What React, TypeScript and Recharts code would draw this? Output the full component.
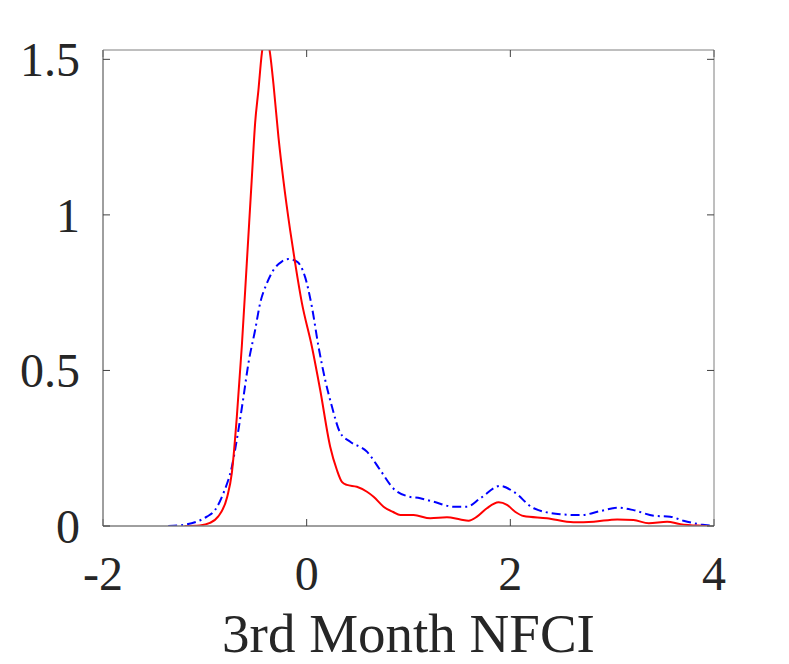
import React from "react";
import { LineChart, Line, XAxis, YAxis } from "recharts";

// kernel density estimates
const redX = [-1.2, -1.05, -0.95, -0.87, -0.78, -0.735, -0.686, -0.637, -0.588, -0.54, -0.506, -0.474, -0.44, -0.4, -0.36, -0.326, -0.277, -0.228, -0.162, -0.113, -0.047, 0.051, 0.133, 0.231, 0.297, 0.346, 0.395, 0.493, 0.592, 0.657, 0.755, 0.85, 0.919, 1.05, 1.214, 1.378, 1.509, 1.59, 1.673, 1.77, 1.885, 1.967, 2.05, 2.13, 2.36, 2.62, 2.82, 3.05, 3.21, 3.36, 3.54, 3.67, 3.87, 3.95];
const redY = [0, 0.002, 0.01, 0.03, 0.094, 0.17, 0.35, 0.577, 0.845, 1.11, 1.296, 1.4, 1.52, 1.58, 1.52, 1.42, 1.25, 1.11, 0.95, 0.845, 0.717, 0.577, 0.437, 0.255, 0.18, 0.142, 0.132, 0.126, 0.11, 0.094, 0.062, 0.045, 0.035, 0.035, 0.025, 0.028, 0.021, 0.017, 0.03, 0.057, 0.076, 0.068, 0.045, 0.032, 0.025, 0.012, 0.014, 0.021, 0.019, 0.009, 0.014, 0.006, 0.001, 0];

const blueX = [-1.36, -1.2, -1.08, -0.98, -0.9, -0.818, -0.735, -0.67, -0.62, -0.572, -0.506, -0.457, -0.391, -0.326, -0.244, -0.179, -0.096, -0.015, 0.051, 0.116, 0.182, 0.248, 0.329, 0.428, 0.592, 0.722, 0.853, 0.985, 1.115, 1.246, 1.443, 1.574, 1.705, 1.902, 2.033, 2.23, 2.49, 2.69, 2.885, 3.05, 3.21, 3.41, 3.57, 3.7, 3.87, 3.98];
const blueY = [0, 0.004, 0.014, 0.03, 0.051, 0.105, 0.19, 0.309, 0.416, 0.523, 0.63, 0.716, 0.78, 0.823, 0.85, 0.858, 0.85, 0.8, 0.705, 0.577, 0.469, 0.384, 0.3, 0.271, 0.239, 0.18, 0.12, 0.096, 0.089, 0.078, 0.062, 0.062, 0.089, 0.129, 0.11, 0.057, 0.038, 0.035, 0.048, 0.059, 0.051, 0.033, 0.03, 0.017, 0.005, 0.001];

const xTicks = [-2, 0, 2, 4];
const yTicks = [0, 0.5, 1, 1.5];

const redData = redX.map((x, i) => ({ x, y: redY[i] }));
const blueData = blueX.map((x, i) => ({ x, y: blueY[i] }));

const FONT = "'Liberation Serif', 'DejaVu Serif', serif";
const BOX = "#7f7f7f";
const TICK_LINE = { stroke: "#404040", strokeWidth: 1 };

function XTick({ x, y, payload }: any) {
  return (
    <text x={x} y={y + 62} textAnchor="middle" fontSize={48} fontFamily={FONT} fill="#262626">
      {payload.value}
    </text>
  );
}

function YTick({ x, y, payload }: any) {
  return (
    <text x={x - 21} y={y + 17} textAnchor="end" fontSize={48} fontFamily={FONT} fill="#262626">
      {payload.value}
    </text>
  );
}

function NoLabel() {
  return <g />;
}

export default function App() {
  return (
    <div style={{ position: "absolute", left: 0, top: 0, background: "#fff" }}>
      <LineChart width={789} height={664} margin={{ top: 50, right: 75, bottom: 8, left: 8 }}>
        <XAxis
          xAxisId="b"
          type="number"
          dataKey="x"
          domain={[-2, 4]}
          ticks={xTicks}
          allowDataOverflow
          height={130}
          stroke={BOX}
          tickLine={false}
          tickSize={0}
          tick={<XTick />}
          label={{
            content: ({ viewBox }: any) => (
              <text
                x={viewBox.x + viewBox.width / 2}
                y={viewBox.y + 126}
                textAnchor="middle"
                fontSize={55}
                fontFamily={FONT}
                fill="#262626"
              >
                3rd Month NFCI
              </text>
            ),
          }}
        />
        {/* box edges with inward ticks, MATLAB style */}
        <XAxis xAxisId="bt" type="number" dataKey="x" domain={[-2, 4]} allowDataOverflow ticks={xTicks} interval={0} orientation="bottom" mirror height={20} tick={<NoLabel />} tickLine={TICK_LINE} tickSize={7} stroke={BOX} />
        <XAxis xAxisId="t" type="number" dataKey="x" domain={[-2, 4]} allowDataOverflow ticks={xTicks} interval={0} orientation="top" mirror height={20} tick={<NoLabel />} tickLine={TICK_LINE} tickSize={7} stroke={BOX} />
        <YAxis
          yAxisId="l"
          type="number"
          domain={[0, 1.53]}
          ticks={yTicks}
          allowDataOverflow
          width={95}
          stroke={BOX}
          tickLine={false}
          tickSize={0}
          tick={<YTick />}
        />
        <YAxis yAxisId="lt" type="number" domain={[0, 1.53]} allowDataOverflow ticks={yTicks} interval={0} orientation="left" mirror width={20} tick={<NoLabel />} tickLine={TICK_LINE} tickSize={7} stroke={BOX} />
        <YAxis yAxisId="r" type="number" domain={[0, 1.53]} allowDataOverflow ticks={yTicks} interval={0} orientation="right" mirror width={20} tick={<NoLabel />} tickLine={TICK_LINE} tickSize={7} stroke={BOX} />
        {/* invisible series so the frame axes get their scales */}
        <Line xAxisId="bt" yAxisId="lt" data={redData} dataKey="y" stroke="none" dot={false} activeDot={false} isAnimationActive={false} />
        <Line xAxisId="t" yAxisId="r" data={redData} dataKey="y" stroke="none" dot={false} activeDot={false} isAnimationActive={false} />
        <Line
          xAxisId="b"
          yAxisId="l"
          data={blueData}
          dataKey="y"
          type="monotone"
          stroke="#0000ff"
          strokeWidth={2}
          strokeDasharray="9 4 2 4"
          dot={false}
          isAnimationActive={false}
        />
        <Line
          xAxisId="b"
          yAxisId="l"
          data={redData}
          dataKey="y"
          type="monotone"
          stroke="#ff0000"
          strokeWidth={2}
          dot={false}
          isAnimationActive={false}
        />
      </LineChart>
    </div>
  );
}
